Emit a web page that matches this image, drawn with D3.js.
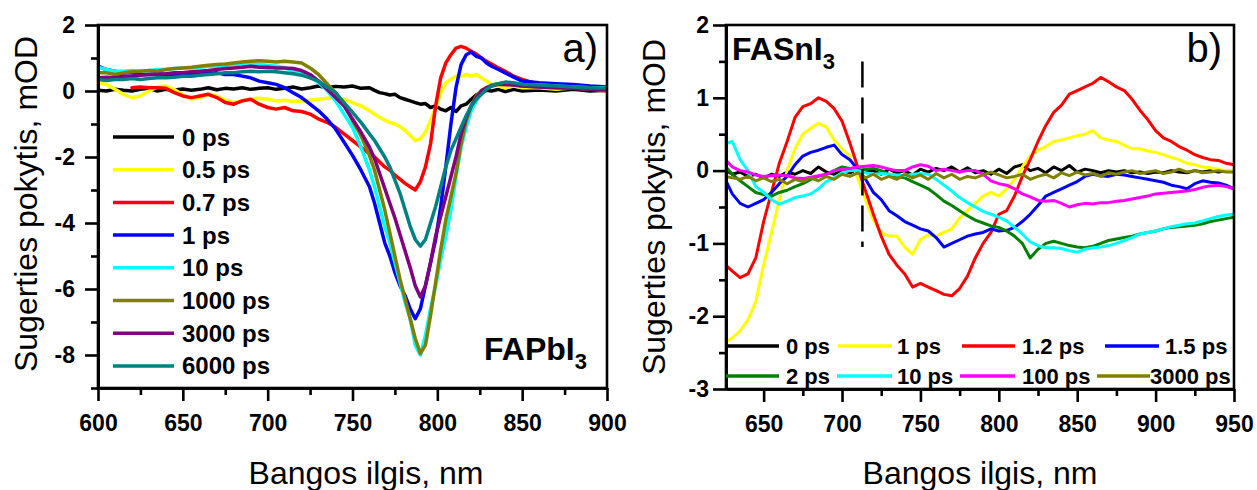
<!DOCTYPE html>
<html><head><meta charset="utf-8">
<script src="https://cdn.jsdelivr.net/npm/d3@7"></script>
<style>
body{margin:0;background:#fff}
svg{display:block}
text{font-family:"Liberation Sans",Arial,sans-serif;fill:#000}
</style>
</head><body>
<svg id="c" width="1257" height="490"></svg>
<script>
// ---------- Panel a) FAPbI3 ----------
const wavelengthA = [600,605,610,615,620,625,630,635,640,645,650,655,660,665,670,675,680,685,690,695,700,705,710,715,720,725,730,735,740,745,750,755,760,
763,766,769,772,775,778,781,784,787,790,793,796,799,802,805,808,811,814,817,820,823,826,829,832,
836,840,845,850,860,870,880,890,900];
const labelsA = ["0 ps","0.5 ps","0.7 ps","1 ps","10 ps","1000 ps","3000 ps","6000 ps"];
const colorsA = ["#000000","#ffff00","#ff0000","#0000ff","#00ffff","#808000","#800080","#008080"];
const a_0ps = [0.02,0.0,0.05,0.02,0.0,0.05,0.08,0.0,0.05,0.03,0.06,0.02,0.05,0.1,0.04,0.08,0.06,0.1,0.05,0.08,0.1,0.05,0.08,0.12,0.06,0.1,0.15,0.1,0.14,0.12,0.15,0.08,0.1,
0.02,-0.05,-0.08,-0.12,-0.1,-0.2,-0.25,-0.3,-0.35,-0.4,-0.38,-0.5,-0.45,-0.55,-0.6,-0.5,-0.62,-0.45,-0.4,-0.25,-0.12,-0.05,0.02,0.0,
0.05,-0.02,0.05,0.0,0.03,0.0,0.05,0.0,0.02];
const a_05ps = [0.25,0.2,0.05,-0.1,-0.2,-0.15,0.0,0.12,0.15,0.05,-0.12,-0.24,-0.2,-0.1,-0.15,-0.28,-0.35,-0.3,-0.25,-0.22,-0.25,-0.3,-0.28,-0.32,-0.3,-0.28,-0.25,-0.22,-0.2,-0.25,-0.35,-0.45,-0.6,
-0.7,-0.8,-0.88,-0.95,-1.0,-1.08,-1.2,-1.35,-1.5,-1.45,-1.25,-0.9,-0.5,-0.05,0.25,0.35,0.45,0.45,0.5,0.45,0.5,0.4,0.3,0.2,
0.15,0.1,0.15,0.1,0.1,0.05,0.1,0.05,0.05];
const a_07ps = [null,null,null,null,0.1,0.12,0.1,0.1,0.08,-0.05,-0.15,-0.2,-0.15,-0.1,-0.2,-0.35,-0.4,-0.3,-0.25,-0.4,-0.5,-0.55,-0.5,-0.6,-0.62,-0.7,-0.85,-0.95,-1.1,-1.3,-1.5,-1.7,-1.9,
-2.0,-2.15,-2.3,-2.4,-2.55,-2.67,-2.8,-2.9,-3.0,-2.75,-2.3,-1.6,-0.45,0.4,0.85,1.1,1.3,1.35,1.3,1.2,1.12,1.0,0.9,0.82,
0.7,0.6,0.45,0.35,0.2,0.12,0.08,0.05,0.0];
const a_1ps = [0.75,0.65,0.6,0.55,0.55,0.5,0.5,0.52,0.5,0.5,0.52,0.5,0.55,0.52,0.55,0.5,0.5,0.45,0.4,0.3,0.25,0.2,0.1,-0.05,-0.2,-0.4,-0.6,-0.85,-1.15,-1.55,-1.95,-2.4,-2.9,
-3.4,-4.0,-4.6,-5.0,-5.5,-5.9,-6.2,-6.6,-6.9,-6.6,-5.9,-5.2,-4.5,-3.5,-2.3,-1.0,0.1,0.8,1.1,1.18,1.05,1.0,0.85,0.75,
0.65,0.55,0.42,0.3,0.25,0.22,0.2,0.15,0.12];
const a_10ps = [0.72,0.65,0.6,0.6,0.62,0.6,0.62,0.65,0.65,0.68,0.7,0.7,0.72,0.75,0.75,0.78,0.8,0.8,0.82,0.8,0.78,0.75,0.7,0.6,0.55,0.45,0.25,0.02,-0.3,-0.7,-1.1,-1.7,-2.4,
-2.9,-3.5,-4.1,-4.6,-5.2,-5.8,-6.4,-6.9,-7.7,-8.0,-7.4,-6.6,-5.9,-5.1,-4.4,-3.6,-2.6,-1.7,-1.1,-0.6,-0.3,-0.05,0.1,0.18,
0.22,0.25,0.22,0.2,0.18,0.15,0.12,0.1,0.1];
const a_1000ps = [0.55,0.55,0.5,0.55,0.58,0.6,0.62,0.6,0.65,0.68,0.7,0.72,0.75,0.78,0.8,0.82,0.85,0.88,0.9,0.92,0.9,0.88,0.9,0.88,0.85,0.7,0.5,0.22,-0.05,-0.4,-0.9,-1.35,-1.95,
-2.4,-3.0,-3.6,-4.3,-5.0,-5.7,-6.3,-6.9,-7.5,-7.95,-7.7,-6.8,-5.8,-4.8,-3.9,-3.2,-2.5,-1.6,-0.9,-0.45,-0.15,0.02,0.1,0.18,
0.22,0.2,0.18,0.15,0.12,0.1,0.1,0.05,0.05];
const a_3000ps = [0.4,0.42,0.4,0.45,0.45,0.48,0.5,0.5,0.52,0.55,0.55,0.58,0.6,0.62,0.65,0.68,0.7,0.72,0.75,0.72,0.72,0.7,0.7,0.68,0.62,0.5,0.3,0.05,-0.2,-0.45,-0.85,-1.25,-1.7,
-2.05,-2.5,-2.95,-3.4,-3.85,-4.35,-4.85,-5.35,-5.9,-6.24,-5.9,-5.2,-4.4,-3.8,-3.2,-2.6,-2.0,-1.3,-0.8,-0.45,-0.2,0.0,0.1,0.15,
0.2,0.2,0.18,0.15,0.12,0.1,0.08,0.05,0.05];
const a_6000ps = [0.35,0.32,0.35,0.35,0.38,0.35,0.38,0.4,0.4,0.42,0.45,0.45,0.48,0.5,0.52,0.55,0.55,0.58,0.6,0.58,0.6,0.58,0.55,0.52,0.48,0.4,0.3,0.12,-0.05,-0.35,-0.65,-0.95,-1.3,
-1.5,-1.75,-2.0,-2.3,-2.7,-3.1,-3.6,-4.1,-4.5,-4.7,-4.5,-4.0,-3.5,-2.9,-2.3,-1.8,-1.45,-1.1,-0.75,-0.45,-0.25,-0.1,0.05,0.15,
0.22,0.27,0.25,0.2,0.18,0.15,0.12,0.1,0.08];
const xTicksA = [600,650,700,750,800,850,900];
const yTicksA = [2,0,-2,-4,-6,-8];

// ---------- Panel b) FASnI3 ----------
const wavelengthB = [626,630,635,640,645,650,655,660,665,670,675,680,685,690,695,700,705,710,715,720,725,730,735,740,745,750,755,760,765,770,
775,780,785,790,795,800,805,810,815,820,825,830,835,840,845,850,855,860,865,870,875,880,885,890,895,900,905,910,915,920,925,930,935,940,945,950];
const labelsB = ["0 ps","1 ps","1.2 ps","1.5 ps","2 ps","10 ps","100 ps","3000 ps"];
const colorsB = ["#000000","#ffff00","#ff0000","#0000ff","#008000","#00ffff","#ff00ff","#808000"];
const b_0ps = [0.0,-0.05,-0.02,-0.08,-0.05,-0.1,-0.05,-0.08,-0.02,-0.05,0.0,-0.04,0.05,-0.02,-0.05,0.0,-0.03,0.02,-0.02,0.0,
-0.05,0.02,-0.03,0.0,-0.06,0.02,-0.02,0.03,0.0,0.05,-0.02,0.04,-0.03,0.0,-0.05,0.02,-0.04,0.05,0.08,0.0,
0.03,-0.03,0.05,0.0,0.07,-0.02,0.02,0.0,-0.03,0.0,-0.02,0.0,-0.03,-0.02,-0.04,-0.02,-0.03,0.0,-0.02,-0.03,
0.0,-0.02,0.0,-0.02,0.0,0.0];
const b_1ps = [-2.35,-2.3,-2.2,-2.05,-1.8,-1.3,-0.85,-0.4,0.0,0.3,0.5,0.58,0.65,0.6,0.42,0.3,0.2,-0.1,-0.4,-0.68,
-0.85,-0.9,-0.9,-1.05,-1.15,-0.95,-0.88,-0.9,-0.85,-0.8,-0.65,-0.55,-0.45,-0.35,-0.3,-0.35,-0.25,-0.12,0.05,0.2,
0.28,0.33,0.4,0.42,0.45,0.48,0.5,0.55,0.45,0.42,0.4,0.35,0.3,0.3,0.27,0.25,0.22,0.18,0.15,0.1,
0.08,0.05,0.04,0.02,0.0,0.0];
const b_12ps = [-1.3,-1.38,-1.47,-1.42,-1.2,-0.7,-0.3,0.1,0.4,0.73,0.88,0.92,1.0,0.95,0.85,0.68,0.38,0.05,-0.28,-0.6,
-0.9,-1.15,-1.3,-1.42,-1.6,-1.55,-1.6,-1.65,-1.7,-1.72,-1.62,-1.45,-1.2,-1.0,-0.85,-0.6,-0.55,-0.35,-0.08,0.15,
0.4,0.62,0.8,0.9,1.05,1.1,1.15,1.2,1.28,1.22,1.15,1.1,0.98,0.83,0.7,0.55,0.45,0.4,0.33,0.28,
0.22,0.18,0.15,0.14,0.1,0.08];
const b_15ps = [-0.14,-0.32,-0.45,-0.5,-0.45,-0.4,-0.3,-0.18,-0.08,0.08,0.2,0.25,0.28,0.32,0.35,0.22,0.15,0.02,-0.12,-0.3,
-0.4,-0.55,-0.62,-0.7,-0.75,-0.8,-0.83,-0.92,-1.05,-1.0,-0.95,-0.9,-0.87,-0.85,-0.8,-0.83,-0.82,-0.78,-0.7,-0.6,
-0.48,-0.35,-0.3,-0.25,-0.2,-0.15,-0.08,-0.05,-0.07,-0.08,-0.05,-0.06,-0.08,-0.1,-0.12,-0.14,-0.16,-0.2,-0.22,-0.25,
-0.18,-0.14,-0.16,-0.17,-0.2,-0.25];
const b_2ps = [0.05,-0.05,-0.14,-0.22,-0.3,-0.33,-0.35,-0.3,-0.27,-0.22,-0.18,-0.12,-0.08,-0.05,0.0,0.05,0.03,0.0,0.02,0.03,
0.0,-0.05,-0.08,-0.1,-0.15,-0.2,-0.25,-0.33,-0.42,-0.48,-0.55,-0.62,-0.68,-0.72,-0.76,-0.78,-0.83,-0.9,-1.0,-1.2,
-1.08,-1.0,-0.97,-1.0,-1.03,-1.05,-1.06,-1.04,-1.0,-0.96,-0.94,-0.92,-0.9,-0.87,-0.85,-0.83,-0.8,-0.78,-0.77,-0.76,
-0.75,-0.73,-0.7,-0.68,-0.66,-0.64];
const b_10ps = [0.37,0.4,0.15,0.0,-0.22,-0.3,-0.4,-0.46,-0.42,-0.37,-0.35,-0.32,-0.25,-0.15,-0.1,-0.03,0.0,0.0,-0.03,-0.05,
-0.04,-0.05,-0.06,-0.07,-0.05,-0.04,-0.05,-0.12,-0.2,-0.28,-0.37,-0.44,-0.5,-0.56,-0.6,-0.64,-0.69,-0.78,-0.87,-0.98,
-1.03,-1.06,-1.06,-1.07,-1.1,-1.12,-1.08,-1.06,-1.05,-1.03,-1.0,-0.96,-0.92,-0.87,-0.85,-0.83,-0.8,-0.77,-0.75,-0.73,
-0.72,-0.69,-0.66,-0.63,-0.61,-0.6];
const b_100ps = [0.14,0.05,0.0,-0.02,-0.06,-0.08,-0.07,-0.06,-0.07,-0.1,-0.11,-0.09,-0.07,-0.05,0.0,0.02,0.03,0.05,0.06,0.07,
0.05,0.02,0.0,0.0,0.05,0.08,0.06,0.0,0.02,0.0,-0.02,0.0,0.0,-0.05,-0.14,-0.18,-0.2,-0.25,-0.32,-0.36,
-0.41,-0.42,-0.41,-0.45,-0.5,-0.47,-0.45,-0.46,-0.44,-0.44,-0.42,-0.41,-0.39,-0.37,-0.35,-0.32,-0.31,-0.3,-0.29,-0.28,
-0.26,-0.23,-0.21,-0.2,-0.22,-0.25];
const b_3000ps = [-0.08,-0.1,-0.12,-0.08,-0.14,-0.1,-0.15,-0.12,-0.18,-0.12,-0.15,-0.1,-0.14,-0.08,-0.12,-0.05,-0.08,-0.03,-0.1,-0.05,
-0.12,-0.08,-0.12,-0.05,-0.1,-0.06,-0.12,-0.04,-0.1,-0.05,-0.12,-0.08,-0.1,-0.06,-0.02,-0.06,-0.1,-0.08,-0.05,-0.12,
-0.08,-0.05,-0.1,-0.03,-0.07,-0.02,-0.06,-0.04,-0.08,-0.03,-0.05,-0.02,0.0,-0.04,-0.02,0.0,-0.04,-0.02,0.02,-0.02,
0.0,-0.03,-0.02,0.0,-0.02,-0.02];
const xTicksB = [650,700,750,800,850,900,950];
const yTicksB = [2,1,0,-1,-2,-3];
const markerWavelength = 713;
const markerSpan = [1.5,-1.05];

const seriesA = [a_0ps,a_05ps,a_07ps,a_1ps,a_10ps,a_1000ps,a_3000ps,a_6000ps];
const seriesB = [b_0ps,b_1ps,b_12ps,b_15ps,b_2ps,b_10ps,b_100ps,b_3000ps];

const svg = d3.select("#c");

function drawPanel(o){
  const x = d3.scaleLinear().domain(o.xDomain).range([o.left,o.right]);
  const y = d3.scaleLinear().domain(o.yDomain).range([o.bottom,o.top]);
  const g = svg.append("g");
  const clipId = "clip"+o.id;
  svg.append("clipPath").attr("id",clipId).append("rect")
    .attr("x",o.left).attr("y",o.top).attr("width",o.right-o.left).attr("height",o.bottom-o.top);
  const line = d3.line().defined(d=>d[1]!==null).x(d=>x(d[0])).y(d=>y(d[1]));
  const cg = g.append("g").attr("clip-path","url(#"+clipId+")");
  o.series.forEach((s,i)=>{
    cg.append("path").datum(o.wl.map((w,k)=>[w,s[k]]))
      .attr("d",line).attr("fill","none").attr("stroke",o.colors[i])
      .attr("stroke-width",o.lw).attr("stroke-linejoin","round").attr("stroke-linecap","round");
  });
  // minor ticks
  const xMinor = d3.axisBottom(x).tickValues(o.xMinor).tickSize(7).tickFormat("").tickSizeOuter(0);
  const yMinor = d3.axisLeft(y).tickValues(o.yMinor).tickSize(7).tickFormat("").tickSizeOuter(0);
  const xAx = d3.axisBottom(x).tickValues(o.xTicks).tickSize(13).tickPadding(14).tickSizeOuter(0).tickFormat(d=>String(d));
  const yAx = d3.axisLeft(y).tickValues(o.yTicks).tickSize(13).tickPadding(o.yPad).tickSizeOuter(0).tickFormat(d=>String(d));
  [[xMinor,"translate(0,"+o.bottom+")"],[yMinor,"translate("+o.left+",0)"],[xAx,"translate(0,"+o.bottom+")"],[yAx,"translate("+o.left+",0)"]].forEach(([ax,t])=>{
    const a = g.append("g").attr("transform",t).call(ax);
    a.selectAll("path,line").attr("stroke","#000").attr("stroke-width",2.6);
    a.selectAll("text").attr("font-size",23).attr("font-weight","bold").attr("font-family","'Liberation Sans',Arial,sans-serif").attr("fill","#000");
  });
  g.append("rect").attr("x",o.left).attr("y",o.top).attr("width",o.right-o.left).attr("height",o.bottom-o.top)
    .attr("fill","none").attr("stroke","#000").attr("stroke-width",2.6);
  return {x,y,g};
}

const A = drawPanel({id:"A",xDomain:[600,900],yDomain:[-9,2],left:98,right:607,top:25,bottom:388,
  wl:wavelengthA,series:seriesA,colors:colorsA,lw:3.5,xTicks:xTicksA,yTicks:yTicksA,
  xMinor:[625,675,725,775,825,875],yMinor:[1,-1,-3,-5,-7,-9],yPad:10});
const B = drawPanel({id:"B",xDomain:[626,950],yDomain:[-3,2],left:726,right:1234,top:25,bottom:389,
  wl:wavelengthB,series:seriesB,colors:colorsB,lw:3,xTicks:xTicksB,yTicks:yTicksB,
  xMinor:[675,725,775,825,875,925],yMinor:[1.5,0.5,-0.5,-1.5,-2.5],yPad:4});

// dashed marker line in panel b
B.g.append("line").attr("x1",B.x(markerWavelength)).attr("x2",B.x(markerWavelength))
  .attr("y1",B.y(markerSpan[0])).attr("y2",B.y(markerSpan[1]))
  .attr("stroke","#000").attr("stroke-width",2.5).attr("stroke-dasharray","26,10");

// Axis titles
function yTitle(xp,yp){
  svg.append("text").attr("transform","translate("+xp+","+yp+") rotate(-90)")
    .attr("text-anchor","middle").attr("font-size",32).text("Sugerties pokytis, mOD");
}
yTitle(37,204); yTitle(665,207);
svg.append("text").attr("x",366).attr("y",484).attr("text-anchor","middle").attr("font-size",32).text("Bangos ilgis, nm");
svg.append("text").attr("x",980).attr("y",484).attr("text-anchor","middle").attr("font-size",32).text("Bangos ilgis, nm");

// panel letters
svg.append("text").attr("x",598).attr("y",62).attr("text-anchor","end").attr("font-size",40)
  .attr("font-family","Lato,'Open Sans',sans-serif").text("a)");
svg.append("text").attr("x",1222).attr("y",62).attr("text-anchor","end").attr("font-size",40)
  .attr("font-family","Lato,'Open Sans',sans-serif").text("b)");

// compound labels
function compound(xp,yp,base){
  const t = svg.append("text").attr("x",xp).attr("y",yp).attr("font-size",32).attr("font-weight","bold");
  t.append("tspan").text(base);
  t.append("tspan").attr("font-size",22).attr("dy",9).text("3");
}
compound(484,360,"FAPbI");
compound(732,60,"FASnI");

// legend a
labelsA.forEach((lab,i)=>{
  const cy = 137 + i*32.7;
  svg.append("line").attr("x1",113).attr("x2",174).attr("y1",cy).attr("y2",cy)
    .attr("stroke",colorsA[i]).attr("stroke-width",3.5);
  svg.append("text").attr("x",182).attr("y",cy+8.5).attr("font-size",24).attr("font-weight","bold").text(lab);
});
// legend b (2 rows x 4 columns)
const legBLineX = [[726,779],[838,892],[962,1015],[1105,1159],[726,779],[837,892],[960,1015],[1097,1150]];
const legBTextX = [786,897,1022,1165,786,897,1022,1150];
labelsB.forEach((lab,i)=>{
  const cy = i<4 ? 346 : 376;
  svg.append("line").attr("x1",legBLineX[i][0]).attr("x2",legBLineX[i][1]).attr("y1",cy).attr("y2",cy)
    .attr("stroke",colorsB[i]).attr("stroke-width",3.5);
  svg.append("text").attr("x",legBTextX[i]).attr("y",cy+8).attr("font-size",22).attr("font-weight","bold").text(lab);
});
</script>
</body></html>
